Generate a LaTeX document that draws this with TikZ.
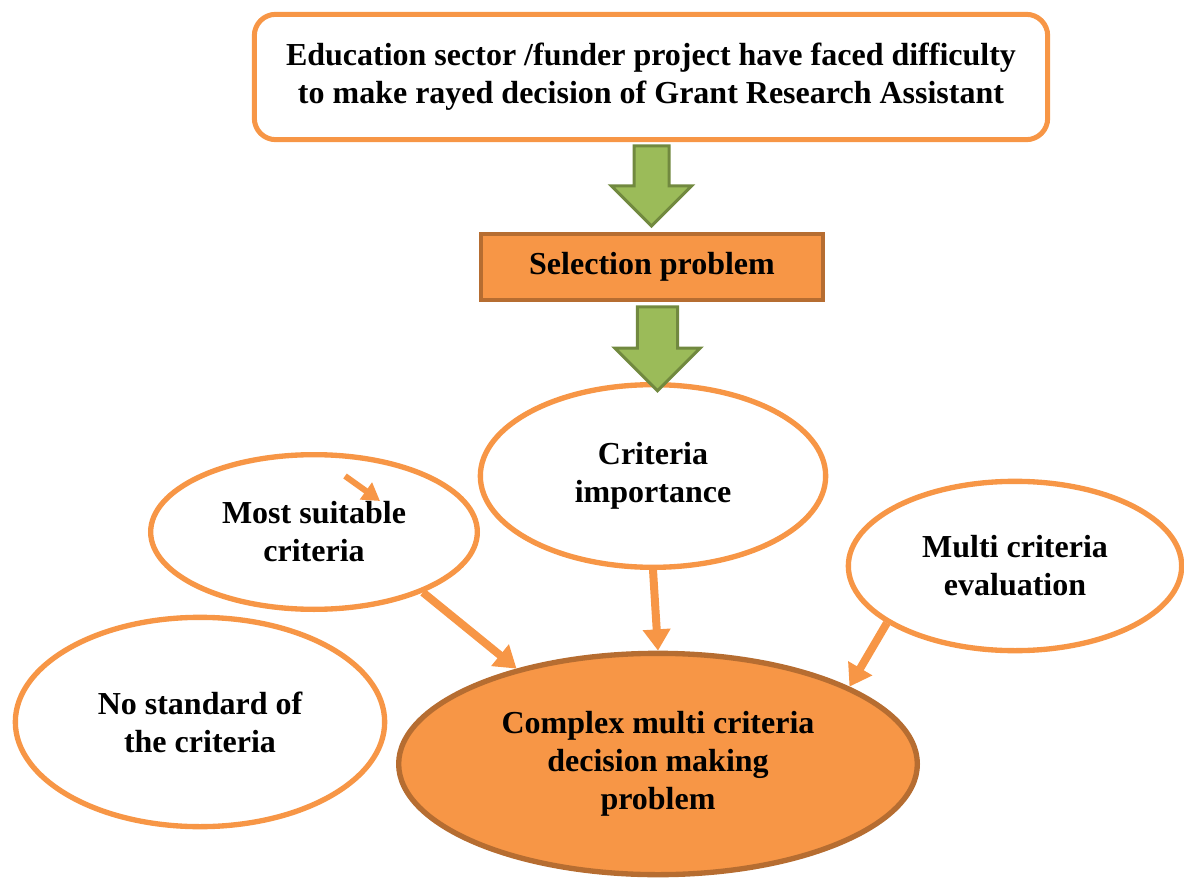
\documentclass[tikz,border=0pt]{standalone}
\usepackage{fontspec}
\setmainfont{Liberation Serif}
\usetikzlibrary{calc,positioning,arrows.meta,shapes.geometric,shapes.arrows}
\definecolor{peach}{HTML}{F79646}
\definecolor{rust}{HTML}{B66D31}
\definecolor{leaf}{HTML}{9BBB59}
\definecolor{moss}{HTML}{71893F}

\tikzset{
  label font/.style={font=\bfseries\fontsize{24}{28.5}\selectfont},
  bubble/.style={ellipse,draw=peach,line width=4pt,fill=white,inner sep=0pt,align=center,label font},
  hotbubble/.style={bubble,draw=rust,fill=peach},
  greenarrow/.style={single arrow,draw=moss,fill=leaf,line width=2.25pt,rotate=-90,single arrow head extend=17pt},
  feed/.style={draw=peach,line width=6pt,-{Triangle[length=16pt,width=20pt]}}
}

\begin{document}
\begin{tikzpicture}[x=0.75pt,y=-0.75pt]
\useasboundingbox (0,0) rectangle (1184,880);

% problem statement and selection step
\node[draw=peach,line width=3.75pt,rounded corners=16pt,fill=white,minimum width=595pt,minimum height=94pt,align=center,label font] (issue) at (651,77)
  {Education sector /funder project have faced difficulty\\to make rayed decision of Grant Research Assistant};
\node[draw=rust,line width=3pt,fill=peach,minimum width=256pt,minimum height=49pt,label font] (select) at (652,267) {Selection problem};

% factors around the core problem
\node[bubble,minimum width=245pt,minimum height=116pt] (suitable) at (314,532) {Most suitable\\criteria};
\node[bubble,minimum width=259pt,minimum height=137pt] (weight) at (653,476) {Criteria\\importance};
\node[bubble,minimum width=250pt,minimum height=127pt] (evaluation) at (1015,566) {Multi criteria\\evaluation};
\node[bubble,minimum width=277pt,minimum height=157pt] (standard) at (200,722) {No standard of\\the criteria};
\node[hotbubble,minimum width=389pt,minimum height=166pt] (mcdm) at (658,764) {Complex multi criteria\\decision making\\problem};

% block arrows down the chain
\node[greenarrow,inner sep=12pt,minimum width=59pt,minimum height=60pt] (down1) at ($(issue.south)!.5!(select.north)+(0,-10)$) {};
\node[greenarrow,inner sep=13.9pt,minimum width=61.5pt,minimum height=63pt] (down2) at ($(select.south)!.5!(weight.north)+(5,-3)$) {};

% feeding arrows
\draw[feed] (suitable.-29) -- (mcdm.146);
\draw[feed] (weight.south) -- (mcdm.north);
\draw[feed] (evaluation.-156) -- (mcdm.22);
\coordinate (tailA) at (345,476);
\coordinate (tipA) at (380,501);
\draw[draw=peach,line width=4.5pt,-{Triangle[length=13pt,width=15pt]}] (tailA) -- (tipA);
\end{tikzpicture}
\end{document}
